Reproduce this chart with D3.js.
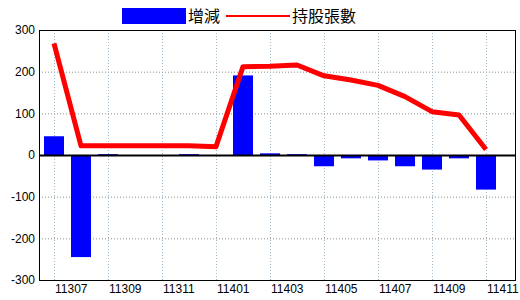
<!DOCTYPE html>
<html>
<head>
<meta charset="utf-8">
<script src="https://cdn.jsdelivr.net/npm/d3@7"></script>
<style>
  body { margin: 0; background: #fff; }
  text { font-family: "Liberation Sans", Arial, sans-serif; }
</style>
</head>
<body>
<div id="chart"></div>
<script>
// data
var months = ["11307","11308","11309","11310","11311","11312","11401","11402","11403",
              "11404","11405","11406","11407","11408","11409","11410","11411"]
var change = [45, -245, 2, 0, 0, 2, 0, 191, 4, 2, -27, -8, -13, -27, -35, -8, -83]
var holders = [268, 22, 22, 22, 22, 22, 20, 212, 213, 216, 190, 180, 167, 140, 104, 96, 13]
var yTicks = [-300, -200, -100, 0, 100, 200, 300]
var xLabels = ["11307","11309","11311","11401","11403","11405","11407","11409","11411"]

var W = 520, H = 300
var margin = {top: 30, right: 4, bottom: 20, left: 39},
    width = W - margin.left - margin.right,
    height = H - margin.top - margin.bottom;

var svg = d3.select('#chart').append('svg')
    .attr('width', W)
    .attr('height', H)

var g = svg.append('g')
    .attr('transform', "translate(" + margin.left + "," + margin.top + ")");

var x = d3.scalePoint()
    .domain(months)
    .range([15, 447])

var y = d3.scaleLinear()
    .domain([-300, 300])
    .range([height, 0])

// horizontal grid
g.append("g").selectAll("line")
    .data(yTicks.filter(function(d){ return d != 0 && Math.abs(d) != 300 }))
    .enter().append("line")
    .attr("x1", 0).attr("x2", width)
    .attr("y1", function(d){ return y(d) + 0.5 }).attr("y2", function(d){ return y(d) + 0.5 })
    .attr("stroke", "#8c8c8c")
    .attr("stroke-dasharray", "1,2")

// vertical grid on labelled months
g.append("g").selectAll("line")
    .data(xLabels)
    .enter().append("line")
    .attr("x1", function(d){ return x(d) + 0.5 }).attr("x2", function(d){ return x(d) + 0.5 })
    .attr("y1", 0).attr("y2", height)
    .attr("stroke", "#9db6c8")
    .attr("stroke-dasharray", "1,2")

// bars
var barW = 20
g.append("g").selectAll("rect")
    .data(change)
    .enter().append("rect")
    .attr("x", function(d, i){ return x(months[i]) - barW / 2 })
    .attr("y", function(d){ return y(Math.max(0, d)) })
    .attr("width", barW)
    .attr("height", function(d){ return Math.abs(y(d) - y(0)) })
    .attr("fill", "#0000ff")

// zero line
g.append("line")
    .attr("x1", 0).attr("x2", width)
    .attr("y1", y(0) + 0.5).attr("y2", y(0) + 0.5)
    .attr("stroke", "#000")
    .attr("stroke-width", 2)

// holders line
var line = d3.line()
    .x(function(d, i){ return x(months[i]) })
    .y(function(d){ return y(d) })
g.append("path")
    .datum(holders)
    .attr("d", line)
    .attr("fill", "none")
    .attr("stroke", "#ff0000")
    .attr("stroke-width", 5)
    .attr("stroke-linejoin", "round")

// frame
g.append("rect")
    .attr("x", 0.5).attr("y", 0.5)
    .attr("width", width - 1).attr("height", height)
    .attr("fill", "none")
    .attr("stroke", "#000")

// y labels
g.append("g").selectAll("text")
    .data(yTicks)
    .enter().append("text")
    .attr("x", -4)
    .attr("y", function(d){ return y(d) })
    .attr("dy", "0.35em")
    .attr("text-anchor", "end")
    .style("font-size", "12px")
    .text(function(d){ return d })

// x labels
g.append("g").selectAll("text")
    .data(xLabels)
    .enter().append("text")
    .attr("x", function(d){ return x(d) + 1 })
    .attr("y", height + 13)
    .attr("text-anchor", "start")
    .style("font-size", "12px")
    .text(function(d){ return d })

// legend
svg.append("rect").attr("x", 122).attr("y", 8).attr("width", 64).attr("height", 16).attr("fill", "#0000ff")
svg.append("text").attr("x", 188).attr("y", 22).text("增減")
    .style("font-size", "16px").style("font-family", "'Noto Sans CJK TC', sans-serif")
svg.append("line").attr("x1", 226).attr("x2", 290).attr("y1", 16).attr("y2", 16)
    .attr("stroke", "#ff0000").attr("stroke-width", 2)
svg.append("text").attr("x", 292).attr("y", 22).text("持股張數")
    .style("font-size", "16px").style("font-family", "'Noto Sans CJK TC', sans-serif")
</script>
</body>
</html>
